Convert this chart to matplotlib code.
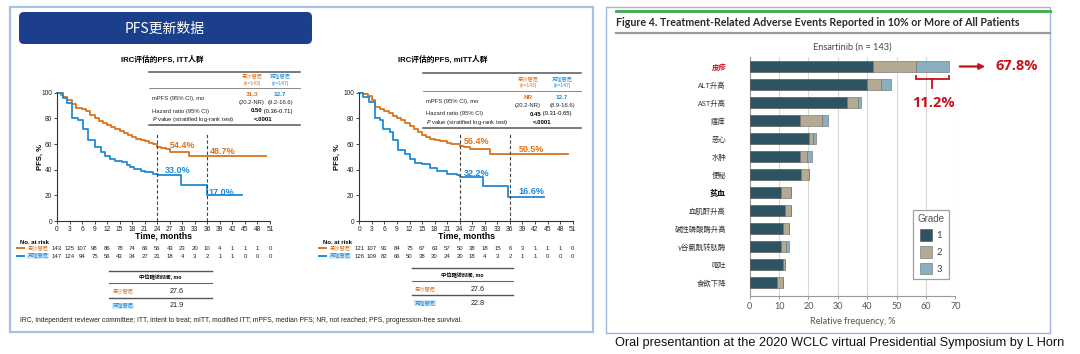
import matplotlib
matplotlib.use("Agg")
import matplotlib.pyplot as plt
import matplotlib.transforms as mtransforms
from matplotlib.patches import Rectangle, FancyBboxPatch
import numpy as np

# ---------------- data ----------------
month_ticks = list(range(0, 52, 3))
landmarks = [24, 36]

# ITT (panel 1)
itt_ens_t = [0, 1, 1.5, 2.5, 3.5, 4.5, 6, 7, 8, 9, 10, 11, 12, 13, 14, 15, 16, 17, 18, 19, 20, 21, 22, 23, 24, 25, 26, 27, 31.5, 50]
itt_ens_s = [100, 98, 96.5, 94, 91.5, 88, 87, 85.5, 83, 80, 78, 76.5, 75, 73, 71.5, 70, 68.5, 67, 65.5, 64, 63, 62, 61, 60, 58, 57, 56, 54, 51, 51]
itt_cri_t = [0, 1.5, 2.3, 3.7, 5, 6.3, 7.5, 9, 10.5, 11.5, 12.7, 14, 15.5, 16.7, 17.5, 18.5, 20, 21, 23, 24.3, 29.8, 36, 44.2]
itt_cri_s = [100, 96, 92, 80.5, 79, 71.5, 63, 58, 54, 51, 48.5, 47, 46, 44, 42, 40.5, 39, 38, 37, 35.7, 28, 20, 20]
itt_risk_ens = [143, 125, 107, 98, 86, 78, 74, 66, 56, 43, 23, 20, 10, 4, 1, 1, 1, 0]
itt_risk_cri = [147, 124, 94, 75, 56, 43, 34, 27, 21, 18, 4, 3, 2, 1, 1, 0, 0, 0]
itt_labels = [("54.4%", 27, 59, "ens"), ("48.7%", 36.6, 54.5, "ens"),
              ("33.0%", 25.9, 39.6, "cri"), ("17.0%", 36.2, 22, "cri")]

# mITT (panel 2)
mitt_ens_t = [0, 1, 2, 3, 3.7, 5, 6, 7, 8, 9, 10, 11, 12, 13, 14, 15, 16, 17, 18, 19.3, 21, 22, 24, 25, 26.5, 31.3, 49.8]
mitt_ens_s = [100, 99, 97.5, 94, 89, 87.5, 86, 84, 81.5, 80, 78.5, 76, 74, 72, 69.5, 67, 65.5, 64, 63, 62.5, 61, 60, 58.5, 57.5, 55.8, 52.2, 52.2]
mitt_cri_t = [0, 1, 2.2, 3.7, 4.9, 5.7, 7.3, 8.1, 9.3, 10.9, 12.1, 13.3, 14.9, 16.9, 18.5, 20.9, 23.3, 24, 29.5, 35.6, 44.2]
mitt_cri_s = [100, 97, 92.5, 80, 78.5, 71.5, 69.5, 63, 55.5, 52.5, 48.7, 45.5, 44.3, 41, 39, 37, 35.8, 34.5, 27.2, 18.9, 18.9]
mitt_risk_ens = [121, 107, 91, 84, 75, 67, 63, 57, 50, 38, 18, 15, 6, 3, 1, 1, 1, 0]
mitt_risk_cri = [126, 109, 82, 66, 50, 38, 30, 24, 20, 18, 4, 3, 2, 1, 1, 0, 0, 0]
mitt_labels = [("56.4%", 24.9, 61.7, "ens"), ("50.5%", 38, 55.8, "ens"),
               ("32.2%", 24.9, 37.1, "cri"), ("16.6%", 38, 22.8, "cri")]

arm_names = ["恩沙替尼", "克唑替尼"]
arm_n = ["(n=143)", "(n=147)"]
itt_mpfs = ["31.3", "12.7"]
itt_ci = ["(20.2-NR)", "(9.2-16.6)"]
itt_hr = ("0.50", " (0.36-0.71)")
mitt_mpfs = ["NR", "12.7"]
mitt_ci = ["(20.2-NR)", "(8.9-16.6)"]
mitt_hr = ("0.45", " (0.31-0.65)")
itt_followup = ["27.6", "21.9"]
mitt_followup = ["27.6", "22.8"]

# Adverse events (right panel)
ae_cats = ["皮疹", "ALT升高", "AST升高", "瘙痒", "恶心", "水肿", "便秘", "贫血",
           "血肌酐升高", "碱性磷酸酶升高", "γ谷氨酰转肽酶", "呕吐", "食欲下降"]
grade1 = [42, 40, 33, 17, 20.3, 17, 17.6, 10.5, 12, 11.2, 10.5, 11.2, 9.2]
grade2 = [14.6, 4.7, 4, 7.6, 1.4, 2.6, 2.7, 3.6, 2.1, 2.2, 1.9, 0.8, 2]
grade3 = [11.2, 3.4, 0.8, 2, 0.8, 1.5, 0, 0, 0, 0, 1, 0, 0]
ae_xticks = [0, 10, 20, 30, 40, 50, 60, 70]

# ---------------- style ----------------
ORANGE = "#D9731F"
BLUE = "#1F8AD8"
RED = "#C8101A"
G1, G2, G3 = "#2E5463", "#B4A993", "#89AFC0"
SANS = ["Liberation Sans", "Noto Sans CJK SC", "DejaVu Sans"]
HUM = ["Lato", "Noto Sans CJK SC", "DejaVu Sans"]
plt.rcParams["font.family"] = SANS

W, H = 1080, 354
fig = plt.figure(figsize=(W / 100, H / 100), dpi=100)
fig.patch.set_facecolor("white")

ov = fig.add_axes([0, 0, 1, 1], zorder=0)
ov.set_xlim(0, W)
ov.set_ylim(H, 0)
ov.axis("off")


def px_axes(x0, y0, x1, y1):
    a = fig.add_axes([x0 / W, 1 - y1 / H, (x1 - x0) / W, (y1 - y0) / H], zorder=1)
    a.patch.set_alpha(0)
    return a


# ---------- panel frames ----------
ov.add_patch(Rectangle((10, 7), 583, 325, fill=False, ec="#A9BFE3", lw=1.6))
ov.add_patch(Rectangle((606, 7), 444, 326, fill=False, ec="#9FB4DA", lw=1.0))
ov.add_patch(FancyBboxPatch((19, 12), 293, 32, boxstyle="round,pad=0,rounding_size=5",
                            fc="#1C3F8C", ec="none"))
ov.text(165, 28.5, "PFS更新数据", color="white", fontsize=10, ha="center", va="center",
        family=["Noto Sans CJK SC", "DejaVu Sans"])


def km_panel(x0, x1, title, title_x, ens_t, ens_s, cri_t, cri_s, labels,
             risk_e, risk_c, table, followup, ylab_x):
    ax = px_axes(x0, 92.7, x1, 221)
    ax.step(ens_t, ens_s, where="post", color=ORANGE, lw=1.3, clip_on=False)
    ax.step(cri_t, cri_s, where="post", color=BLUE, lw=1.3, clip_on=False)
    ax.vlines(landmarks, 0, 68, colors="#444444", linestyles=(0, (3, 2)), lw=0.8)
    ax.set_xlim(0, 51)
    ax.set_ylim(0, 100)
    ax.set_xticks(month_ticks)
    ax.set_yticks([0, 20, 40, 60, 80, 100])
    ax.tick_params(labelsize=4.8, length=2, width=0.6, pad=1.5, colors="#222222")
    for s in ["top", "right"]:
        ax.spines[s].set_visible(False)
    for s in ["left", "bottom"]:
        ax.spines[s].set_linewidth(0.8)
        ax.spines[s].set_color("#333333")
    for txt, xm, yv, arm in labels:
        ax.text(xm, yv, txt, color=ORANGE if arm == "ens" else BLUE, fontsize=6.5,
                fontweight="bold", ha="left", va="center")
    ov.text(ylab_x, 157, "PFS, %", rotation=90, fontsize=5.5, fontweight="bold",
            ha="center", va="center")
    ov.text((x0 + x1) / 2, 236.5, "Time, months", fontsize=6.3, fontweight="bold",
            ha="center", va="center")
    ov.text(title_x, 59.5, title, fontsize=5.6, fontweight="bold", ha="center", va="center")

    # at risk
    bt = mtransforms.blended_transform_factory(ax.transData, ov.transData)
    ov.text(x0 - 22, 242, "No. at risk", fontsize=4.3, fontweight="bold", ha="center", va="center")
    for row, (vals, col, yy) in enumerate([(risk_e, ORANGE, 248), (risk_c, BLUE, 256)]):
        ov.plot([x0 - 40, x0 - 33], [yy, yy], color=col, lw=1.4)
        ov.text(x0 - 19, yy, arm_names[row], fontsize=3.8, color=col, ha="center", va="center",
                bbox=dict(fc="#D4E8F7", ec="none", pad=0.3) if row == 1 else None)
        for m, v in zip(month_ticks, vals):
            ax.text(m, yy, str(v), transform=bt, fontsize=4.3, ha="center", va="center",
                    color="#222222")

    # summary table
    tx0, tx1, ty_top, c1, c2, hy = table["box"]
    ov.plot([tx0, tx1], [ty_top, ty_top], color="#555555", lw=1.1)
    ov.plot([tx0, tx1], [hy + 11, hy + 11], color="#777777", lw=0.6)
    for cx, name, n, col in [(c1, arm_names[0], arm_n[0], ORANGE), (c2, arm_names[1], arm_n[1], BLUE)]:
        ov.text(cx, hy, name, fontsize=3.8, color=col, ha="center", va="center")
        ov.text(cx, hy + 6.5, n, fontsize=3.6, color=col, ha="center", va="center")
    r1 = hy + 20
    ov.text(tx0 + 3, r1 + 2, "mPFS (95% CI), mo", fontsize=4.2, va="center", color="#222222")
    for cx, v, ci, col in [(c1, table["mpfs"][0], table["ci"][0], ORANGE),
                           (c2, table["mpfs"][1], table["ci"][1], BLUE)]:
        ov.text(cx, r1 - 2, v, fontsize=4.6, fontweight="bold", color=col, ha="center", va="center")
        ov.text(cx, r1 + 6, ci, fontsize=4.2, color="#222222", ha="center", va="center")
    ov.text(tx0 + 3, r1 + 14.5, "Hazard ratio (95% CI)", fontsize=4.2, va="center", color="#222222")
    mid = (c1 + c2) / 2
    ov.text(mid - 4, r1 + 14.5, table["hr"][0], fontsize=4.3, fontweight="bold",
            ha="right", va="center")
    ov.text(mid - 4, r1 + 14.5, table["hr"][1], fontsize=4.2, ha="left", va="center")
    ov.text(tx0 + 3, r1 + 23, "$P$ value (stratified log-rank test)", fontsize=4.2, va="center",
            color="#222222")
    ov.text(mid - 3, r1 + 23, "<.0001", fontsize=4.3, fontweight="bold", ha="center", va="center")
    ov.plot([tx0, tx1], [r1 + 28, r1 + 28], color="#555555", lw=1.1)

    # follow-up table
    fx0, fx1, fy, lab_x, val_x = followup["box"]
    ov.plot([fx0, fx1], [fy, fy], color="#555555", lw=1.0)
    ov.text((fx0 + fx1) / 2, fy + 7, "中位随访时间, mo", fontsize=3.8, fontweight="bold",
            ha="center", va="center")
    ov.plot([fx0, fx1], [fy + 12.5, fy + 12.5], color="#666666", lw=0.8)
    ov.text(lab_x, fy + 21, arm_names[0], fontsize=3.8, color=ORANGE, ha="center", va="center")
    ov.text(val_x, fy + 21, followup["vals"][0], fontsize=5.2, ha="center", va="center", color="#222222")
    ov.plot([fx0, fx1], [fy + 27, fy + 27], color="#555555", lw=1.0)
    ov.text(lab_x, fy + 35, arm_names[1], fontsize=3.8, color=BLUE, ha="center", va="center",
            bbox=dict(fc="#D4E8F7", ec="none", pad=0.3))
    ov.text(val_x, fy + 35, followup["vals"][1], fontsize=5.2, ha="center", va="center", color="#222222")
    return ax


km_panel(57, 270, "IRC评估的PFS, ITT人群", 162,
         itt_ens_t, itt_ens_s, itt_cri_t, itt_cri_s, itt_labels,
         itt_risk_ens, itt_risk_cri,
         dict(box=(149, 300, 72, 252, 280, 76.5), mpfs=itt_mpfs, ci=itt_ci, hr=itt_hr),
         dict(box=(109, 212, 270.7, 123, 177), vals=itt_followup), 40)
km_panel(359.3, 572.7, "IRC评估的PFS, mITT人群", 443,
         mitt_ens_t, mitt_ens_s, mitt_cri_t, mitt_cri_s, mitt_labels,
         mitt_risk_ens, mitt_risk_cri,
         dict(box=(423, 581, 73.3, 528, 562, 79.5), mpfs=mitt_mpfs, ci=mitt_ci, hr=mitt_hr),
         dict(box=(412, 513, 268.3, 425, 478), vals=mitt_followup), 337)

ov.text(20, 320.5, "IRC, independent reviewer committee; ITT, intent to treat; mITT, modified ITT; "
        "mPFS, median PFS; NR, not reached; PFS, progression-free survival.",
        fontsize=4.9, ha="left", va="center", color="#222222")

# ---------- right panel ----------
ov.plot([616, 1050], [10.5, 10.5], color="#3CAB4B", lw=2.0)
ov.text(616.5, 22.3, "Figure 4. Treatment-Related Adverse Events Reported in 10% or More of All Patients",
        fontsize=7.7, ha="left", va="center", color="#2A2A2A", family=HUM, fontweight="bold")
ov.plot([616, 1050], [33.3, 33.3], color="#9A9A9A", lw=1.6)

bx = px_axes(749.7, 57, 955.3, 296)
ypos = np.arange(len(ae_cats))
g1 = np.array(grade1)
g2 = np.array(grade2)
g3 = np.array(grade3)
h = 0.62
b1 = bx.barh(ypos, g1, height=h, color=G1, edgecolor="#4A4A4A", lw=0.4, label="1", zorder=3)
b2 = bx.barh(ypos, g2, left=g1, height=h, color=G2, edgecolor="#6A6A6A", lw=0.4, label="2", zorder=3)
b3 = bx.barh(ypos, g3, left=g1 + g2, height=h, color=G3, edgecolor="#6A6A6A", lw=0.4, label="3", zorder=3)
bx.set_xlim(0, 70)
bx.set_ylim(len(ae_cats) - 0.26, -0.54)
bx.set_xticks(ae_xticks)
bx.set_yticks(ypos)
bx.set_yticklabels(ae_cats, family=["Noto Sans CJK SC", "DejaVu Sans"], fontsize=5.3, color="#333333")
bx.tick_params(axis="y", length=0, pad=17)
bx.tick_params(axis="x", length=2.5, width=0.6, colors="#8A8A8A", labelcolor="#555555",
               labelsize=6.5, pad=2)
for lab in bx.get_xticklabels():
    lab.set_family(HUM)
ylabs = bx.get_yticklabels()
ylabs[0].set_color(RED)
ylabs[0].set_fontstyle("italic")
ylabs[0].set_fontweight("bold")
ylabs[7].set_fontweight("bold")
ylabs[7].set_fontsize(5.8)
ylabs[7].set_color("#111111")
bx.grid(axis="x", color="#D8D8D8", lw=0.8, zorder=0)
for s in ["top", "right"]:
    bx.spines[s].set_visible(False)
for s in ["left", "bottom"]:
    bx.spines[s].set_color("#9A9A9A")
    bx.spines[s].set_linewidth(0.8)
bx.set_xlabel("Relative frequency, %", fontsize=6.5, color="#555555", family=HUM, labelpad=4)
bx.set_title("Ensartinib (n = 143)", fontsize=6.6, color="#444444", family=HUM, pad=5)
leg = bx.legend(handles=[b1, b2, b3], title="Grade", loc="upper right",
                bbox_to_anchor=(0.969, 0.36), borderaxespad=0, title_fontsize=7,
                handlelength=1.2, handleheight=1.5, handletextpad=0.5, labelspacing=0.55,
                borderpad=0.45, fancybox=False, edgecolor="#A0A0A0", framealpha=1,
                prop={"family": HUM, "size": 6.8})
leg.get_title().set_color("#555555")
leg.get_frame().set_linewidth(0.9)
for t in leg.get_texts():
    t.set_color("#444444")

# annotations
total0 = g1[0] + g2[0] + g3[0]
bt2 = mtransforms.blended_transform_factory(bx.transData, ov.transData)
bx.annotate("", xy=(988, 66.5), xytext=(957, 66.5), xycoords=ov.transData, textcoords=ov.transData,
            arrowprops=dict(arrowstyle="-|>", color=RED, lw=1.6, mutation_scale=8), annotation_clip=False)
ov.text(995, 66.5, f"{total0:.1f}%", fontsize=10.5, fontweight="bold", color=RED,
        ha="left", va="center", family=["Open Sans", "DejaVu Sans"])
x_a = g1[0] + g2[0]
x_b = total0
bx.plot([x_a, x_a, x_b, x_b], [75.5, 78.5, 78.5, 75.5], transform=bt2, color=RED, lw=1.3,
        clip_on=False, solid_joinstyle="miter")
bx.plot([(x_a + x_b) / 2] * 2, [78.5, 87.5], transform=bt2, color=RED, lw=1.3, clip_on=False)
bx.text((x_a + x_b) / 2 + 0.5, 103, f"{g3[0]:.1f}%", transform=bt2, fontsize=10.5, fontweight="bold",
        color=RED, ha="center", va="center", family=["Open Sans", "DejaVu Sans"])

ov.text(615, 343, "Oral presentantion at the 2020 WCLC virtual Presidential Symposium by L Horn",
        fontsize=9.2, ha="left", va="center", color="#111111")

fig.savefig("out.png", dpi=100)
